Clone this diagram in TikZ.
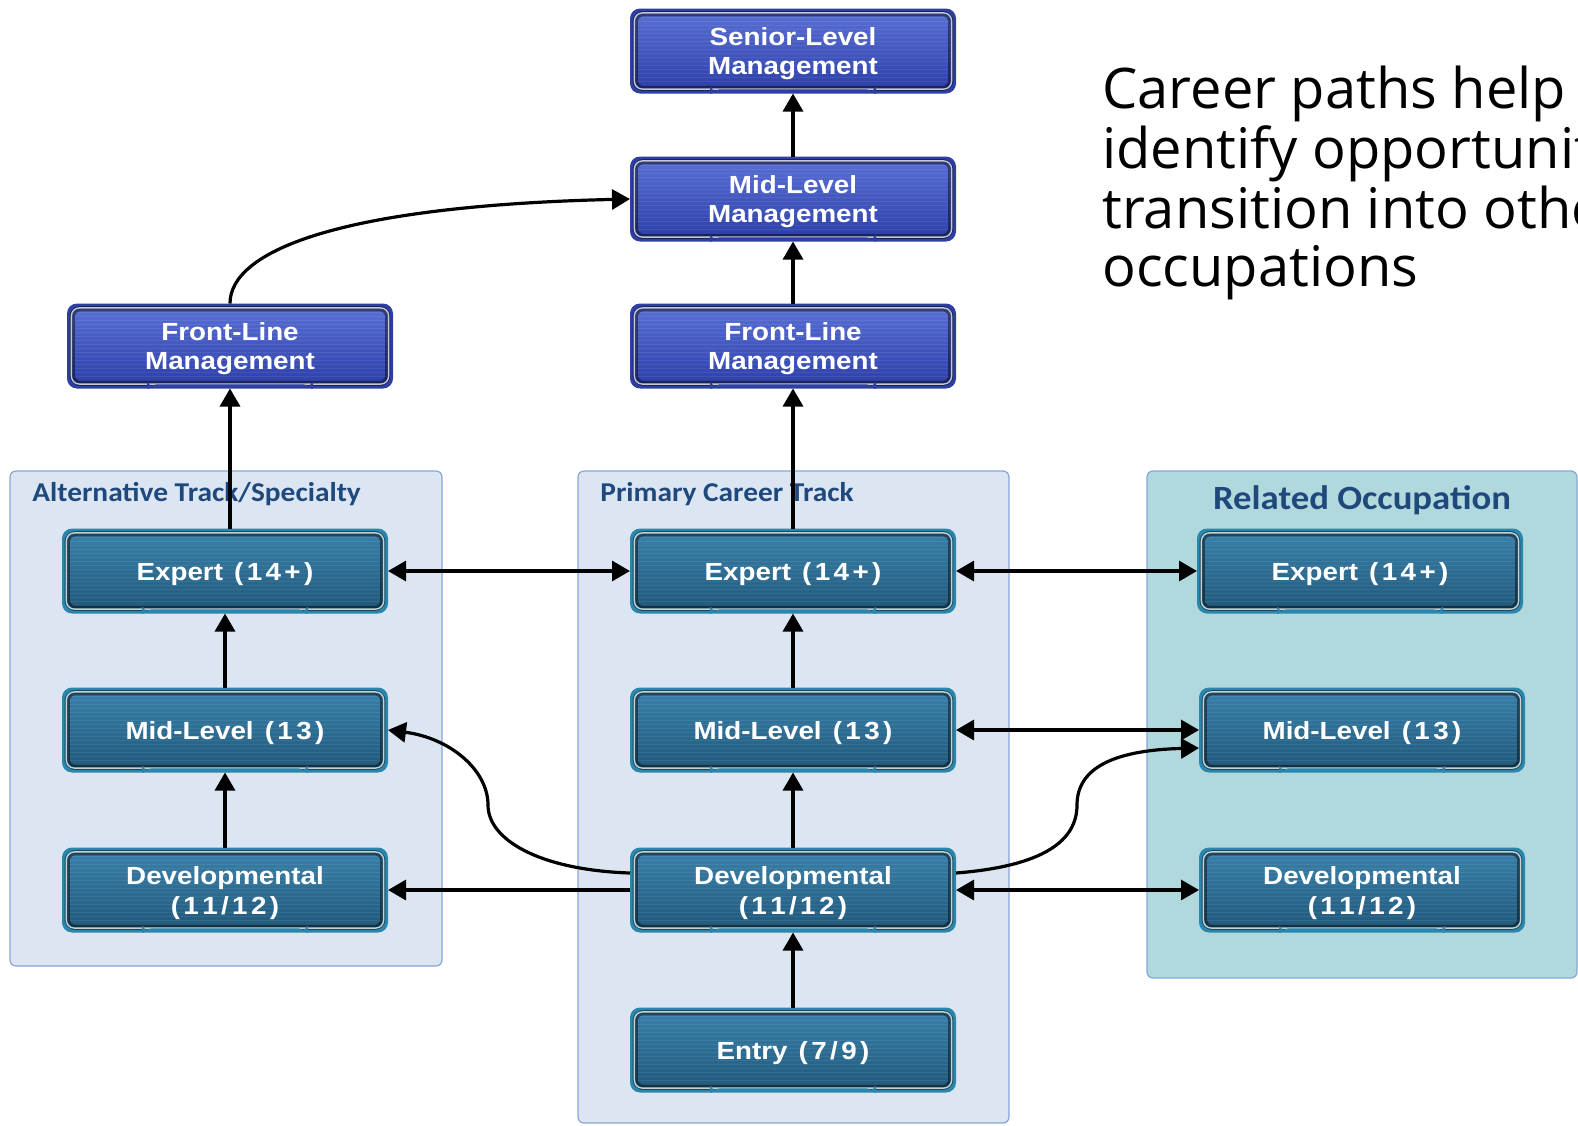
\documentclass[tikz,border=0pt]{standalone}
\usepackage{fontspec}
\setmainfont{Liberation Sans}
\newfontfamily\boxfam[FakeStretch=1.12]{Liberation Sans}
\newfontfamily\hdrfam[FakeStretch=1.08]{Carlito}
\newfontfamily\notefam{Open Sans}
\usetikzlibrary{arrows.meta}

% panel colours
\definecolor{panelfill}{HTML}{DCE6F2}
\definecolor{panelline}{HTML}{86A6D6}
\definecolor{relfill}{HTML}{B1D9DD}
\definecolor{hdrblue}{HTML}{1F497D}
% teal cards
\definecolor{tealring}{HTML}{2A86AC}
\definecolor{tealtop}{HTML}{3B82AC}
\definecolor{tealmid}{HTML}{2E6F98}
\definecolor{tealbot}{HTML}{1F5779}
\definecolor{glowor}{HTML}{E08A4A}
% blue cards
\definecolor{bluering}{HTML}{2E3FA4}
\definecolor{bluetop}{HTML}{5B72D6}
\definecolor{bluemid}{HTML}{3D54C0}
\definecolor{bluebot}{HTML}{2B3DA8}
\definecolor{glowye}{HTML}{D8D860}

% open spacing used in the grade numbers
\newcommand\gp{\kern1.7pt}

% inner face of a card: shaded field, faint stripes, bevel lines, glow at the foot
\newcommand\cardfill[5]{%
  \fill[rounded corners=4pt, top color=#1, middle color=#2, bottom color=#3]
    ([shift={(2.6pt,-2.6pt)}]path picture bounding box.north west) rectangle
    ([shift={(-2.6pt,2.6pt)}]path picture bounding box.south east);
  \foreach \k in {1,...,18}{
    \draw[white, opacity=0.07, line width=0.6pt]
      ([shift={(3pt,-2.6pt-\k*2pt)}]path picture bounding box.north west) --
      ([shift={(-3pt,-2.6pt-\k*2pt)}]path picture bounding box.north east);
  }
  \draw[black, opacity=0.45, line width=2.6pt, rounded corners=4pt]
    ([shift={(2.6pt,-2.6pt)}]path picture bounding box.north west) rectangle
    ([shift={(-2.6pt,2.6pt)}]path picture bounding box.south east);
  \draw[white, opacity=0.75, line width=0.7pt, rounded corners=4pt]
    ([shift={(2.2pt,-2.2pt)}]path picture bounding box.north west) rectangle
    ([shift={(-2.2pt,2.2pt)}]path picture bounding box.south east);
  \shade[left color=#5, middle color=#4, right color=#5]
    ([shift={(40pt,0.3pt)}]path picture bounding box.south west) rectangle
    ([shift={(-40pt,2.1pt)}]path picture bounding box.south east);
}

\tikzset{
  x=0.5pt, y=-0.5pt,
  card/.style={rounded corners=5pt, minimum width=163pt, minimum height=42.5pt,
    inner sep=0pt, outer sep=0pt},
  cardtext/.style={inner sep=0pt, yshift=-1.5pt, text=white, align=center,
    font=\boxfam\bfseries\fontsize{12.4}{14.6}\selectfont},
  tealbox/.style={card, fill=tealring,
    path picture={\cardfill{tealtop}{tealmid}{tealbot}{glowor}{tealring}},
    label={[cardtext]center:{#1}}},
  bluebox/.style={card, fill=bluering,
    path picture={\cardfill{bluetop}{bluemid}{bluebot}{glowye}{bluering}},
    label={[cardtext]center:{#1}}},
  panel/.style={rounded corners=3pt, fill=panelfill, draw=panelline, line width=0.6pt},
  hdr/.style={anchor=base west, inner sep=0pt, text=hdrblue,
    font=\hdrfam\bfseries\fontsize{13.6}{15}\selectfont},
  arr/.style={-{Triangle[length=9pt,width=10pt]}, line width=1.6pt, black},
  darr/.style={{Triangle[length=9pt,width=10pt]}-{Triangle[length=9pt,width=10pt]}, line width=1.6pt, black},
}

\begin{document}
\begin{tikzpicture}
\useasboundingbox (0,0) rectangle (1578,1125);
\fill[white] (0,0) rectangle (1578,1125);
\clip (0,0) rectangle (1578,1125);

% track panels
\draw[panel] (10,471) rectangle (442,966);
\draw[panel] (578,471) rectangle (1009,1123);
\draw[panel, fill=relfill] (1147,471) rectangle (1577,978);

\node[hdr] (althdr) at (32,501) {Alternative Track/Specialty};
\node[hdr] (prihdr) at (600,501) {Primary Career Track};
\node[hdr, anchor=base, font=\hdrfam\bfseries\fontsize{17}{19}\selectfont] (relhdr) at (1362,509) {Related Occupation};

% side note
\node[anchor=base west, inner sep=0pt, font=\notefam\fontsize{28}{28.9}\selectfont] (note) at (1102,108)
  {\begin{tabular}[t]{@{}l@{}}Career paths help\\identify opportunities\\transition into other\\occupations\end{tabular}};

% management cards
\node[bluebox={Senior-Level\\Management}] (sen) at (793,51) {};
\node[bluebox={Mid-Level\\Management}]    (mm)  at (793,199) {};
\node[bluebox={Front-Line\\Management}]   (flc) at (793,346) {};
\node[bluebox={Front-Line\\Management}]   (fll) at (230,346) {};

% grade cards
\node[tealbox={Expert\gp{} (\gp1\gp4\gp+\gp)}] (exl) at (225,571) {};
\node[tealbox={Expert\gp{} (\gp1\gp4\gp+\gp)}] (exc) at (793,571) {};
\node[tealbox={Expert\gp{} (\gp1\gp4\gp+\gp)}] (exr) at (1360,571) {};
\node[tealbox={Mid-Level\gp{} (\gp1\gp3\gp)}] (mil) at (225,730) {};
\node[tealbox={Mid-Level\gp{} (\gp1\gp3\gp)}] (mic) at (793,730) {};
\node[tealbox={Mid-Level\gp{} (\gp1\gp3\gp)}] (mir) at (1362,730) {};
\node[tealbox={Developmental\\(\gp1\gp1\gp/\gp1\gp2\gp)}] (del) at (225,890) {};
\node[tealbox={Developmental\\(\gp1\gp1\gp/\gp1\gp2\gp)}] (dec) at (793,890) {};
\node[tealbox={Developmental\\(\gp1\gp1\gp/\gp1\gp2\gp)}] (der) at (1362,890) {};
\node[tealbox={Entry\gp{} (\gp7\gp/\gp9\gp)}] (ent) at (793,1050) {};

% upward moves
\draw[arr] (mm.north) -- (sen.south);
\draw[arr] (flc.north) -- (mm.south);
\draw[arr] (exc.north) -- (flc.south);
\draw[arr] (mic.north) -- (exc.south);
\draw[arr] (dec.north) -- (mic.south);
\draw[arr] (ent.north) -- (dec.south);
\draw[arr] (exl.north -| fll.south) -- (fll.south);
\draw[arr] (mil.north) -- (exl.south);
\draw[arr] (del.north) -- (mil.south);
\draw[arr] (fll.north) .. controls (230,252) and (335,206) .. (mm.west);

% lateral moves
\draw[darr] (exl.east) -- (exc.west);
\draw[darr] (exc.east) -- (exr.west);
\draw[darr] (mic.east) -- (mir.west);
\draw[darr] (dec.east) -- (der.west);
\draw[arr] (dec.west) -- (del.east);
\draw[arr] ([yshift=8.5pt]dec.west) .. controls (540,870) and (488,840) .. (488,805)
  .. controls (488,770) and (450,738) .. (mil.east);
\draw[arr] ([yshift=8.5pt]dec.east) .. controls (1045,866) and (1077,840) .. (1077,805)
  .. controls (1077,765) and (1120,750) .. ([yshift=-9pt]mir.west);
\end{tikzpicture}
\end{document}
